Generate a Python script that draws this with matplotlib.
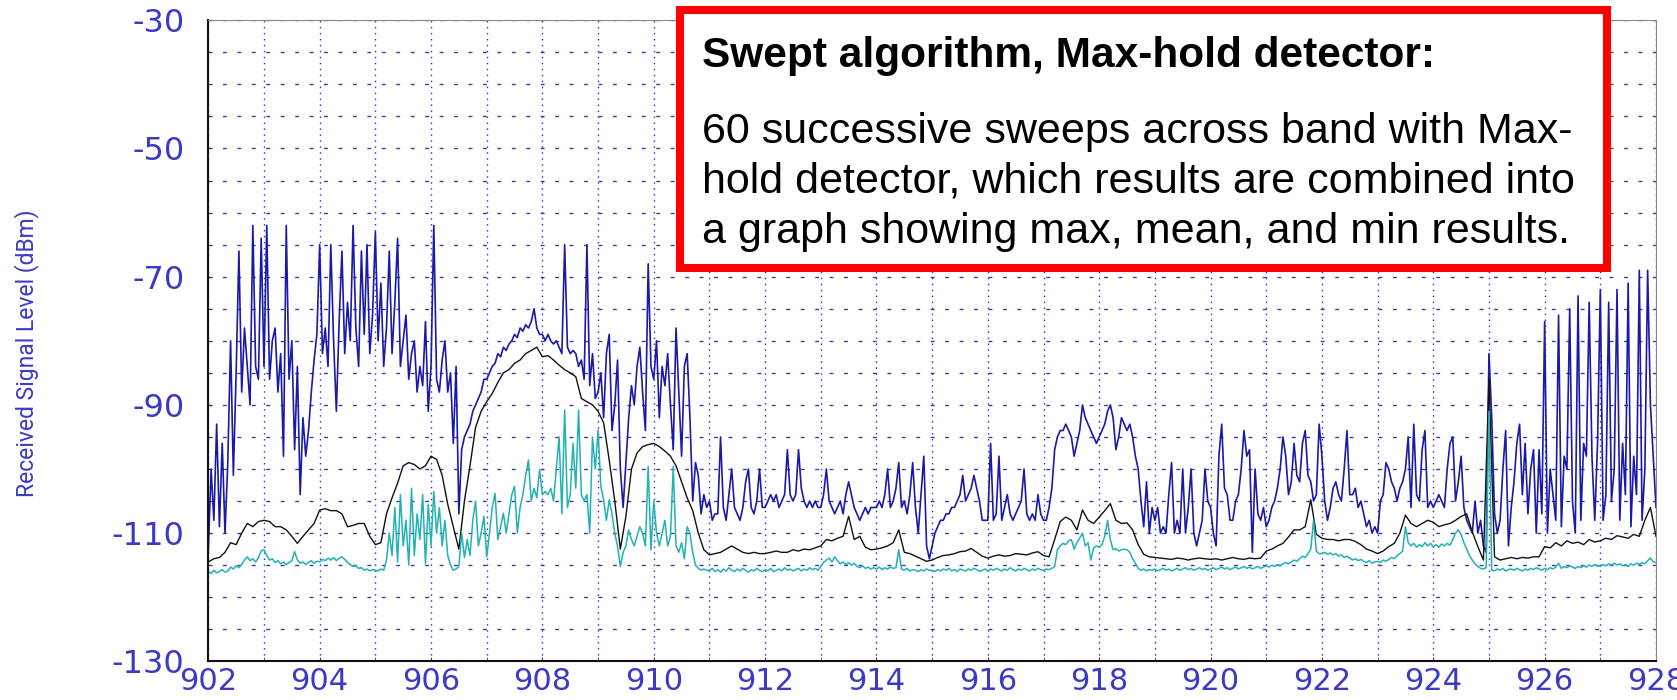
import numpy as np
import matplotlib
matplotlib.use("Agg")
import matplotlib.pyplot as plt
from matplotlib.patches import Rectangle
from matplotlib.ticker import MultipleLocator, FixedLocator

# max-hold trace, 0.05 MHz steps (one row per MHz)
max_dbm = (
    [-113, -100, -108, -93, -109, -96, -110, -99, -80, -101, -85, -66, -88, -78, -84, -90, -62, -84, -86, -64] +
    [-84, -62, -86, -80, -78, -88, -82, -98, -62, -86, -80, -97, -84, -104, -92, -98, -94, -88, -83, -79] +
    [-65, -82, -78, -84, -65, -80, -91, -77, -66, -82, -74, -80, -62, -78, -84, -66, -79, -65, -82, -76] +
    [-63, -80, -71, -84, -78, -66, -82, -74, -64, -84, -80, -76, -86, -82, -80, -88, -84, -87, -77, -91] +
    [-84, -62, -86, -88, -83, -80, -88, -85, -96, -84, -107, -97, -95, -94, -93, -91, -90, -89, -88, -86] +
    [-86, -85, -84, -83.5, -82, -82.5, -81, -81.5, -80.5, -80, -79, -79.5, -78, -78.5, -77.5, -78, -77, -75, -78, -79] +
    [-79, -80, -79, -80, -80.5, -80, -81, -82, -65, -81, -82, -81.5, -82, -84, -83, -86, -65, -87, -82, -89] +
    [-88, -85, -92, -82, -79, -94, -90, -83, -100, -106, -99, -92, -87, -90, -84, -81, -88, -94, -68, -84] +
    [-86, -80, -92, -84, -87, -82, -90, -97, -78, -88, -98, -84, -82, -92, -105, -99, -101, -107, -104, -106] +
    [-105, -108, -107, -107, -95, -106, -108, -104, -100, -106, -107, -108, -106, -102, -100, -106, -107, -105, -100, -106] +
    [-106, -105, -104, -105, -104, -106, -105, -104, -97, -104, -105, -104, -97, -103, -105, -106, -105, -106, -105, -106] +
    [-106, -104, -100, -105, -106, -107, -106, -105, -107, -104, -102, -104, -106, -107, -108, -107, -106, -107, -106, -106] +
    [-106, -105, -106, -104, -100, -106, -105, -103, -99, -106, -105, -107, -104, -99, -106, -110, -104, -98, -112, -114] +
    [-112, -110, -109, -108, -108, -107, -107, -106, -106, -105, -104, -101, -105, -104, -103, -101, -103, -105, -108, -108] +
    [-108, -96, -108, -107, -98, -108, -106, -104, -107, -108, -107, -106, -105, -100, -107, -108, -107, -108, -104, -107] +
    [-108, -108, -106, -103, -97, -95, -94, -94, -93, -94, -95, -98, -96, -94, -90, -92, -93, -94, -95, -96] +
    [-95, -94, -93, -91, -90, -92, -97, -95, -92, -93, -94, -93, -95, -98, -100, -105, -109, -102, -110, -106] +
    [-108, -106, -110, -109, -110, -104, -99, -110, -108, -110, -100, -110, -106, -100, -110, -112, -110, -108, -100, -105] +
    [-106, -110, -112, -98, -93, -103, -104, -108, -108, -105, -104, -100, -94, -98, -97, -113, -100, -107, -108, -106] +
    [-109, -108, -106, -105, -103, -100, -95, -98, -104, -102, -96, -101, -102, -96, -94, -101, -102, -105, -104, -93] +
    [-98, -105, -108, -106, -103, -102, -104, -105, -100, -94, -104, -104, -103, -106, -105, -107, -109, -108, -110, -109] +
    [-110, -105, -104, -99, -100, -102, -103, -105, -103, -102, -100, -95, -106, -93, -104, -105, -97, -94, -106, -105] +
    [-106, -105, -104, -105, -106, -100, -96, -95, -105, -102, -98, -106, -108, -109, -110, -105, -110, -108, -112, -113] +
    [-82, -92, -107, -110, -108, -100, -94, -112, -106, -102, -96, -93, -104, -96, -107, -100, -97, -110, -97, -107] +
    [-77, -110, -100, -104, -108, -76, -109, -98, -100, -75, -105, -110, -73, -108, -96, -98, -74, -98, -108, -96] +
    [-72, -108, -104, -74, -105, -100, -72, -108, -96, -104, -71, -109, -98, -104, -69, -108, -100, -69, -90, -98] +
    [-106]
)

# mean trace, 0.1 MHz steps
mean_dbm = (
    [-114.5, -114, -113.8, -113, -111.5, -111.8, -110, -108.5, -109, -108.2] +
    [-108, -108.2, -109, -109, -109.5, -110.5, -111.6, -110.5, -109.5, -108.5] +
    [-106.4, -106.2, -106.5, -106.5, -107, -109, -108.8, -108.5, -108.5, -110.5] +
    [-111.8, -111.5, -107, -104.5, -102.2, -99.5, -99, -99.3, -100, -99.5] +
    [-98, -98.5, -101, -105.5, -109, -112.5, -105, -99.5, -93.5, -91] +
    [-89.5, -88.2, -86.5, -85, -84.5, -83.5, -83, -82, -81.5, -81] +
    [-82.5, -82.3, -83, -83.8, -84.5, -85, -85.6, -89, -89.5, -90] +
    [-91, -92.8, -98.6, -105, -112.5, -107.4, -100, -97.5, -96.5, -96.2] +
    [-96, -96.5, -97.2, -98, -99.5, -102, -104.5, -106.5, -110, -112.6] +
    [-113.4, -113.2, -113, -112.5, -112, -112.5, -113, -113.2, -113, -113.2] +
    [-113.2, -113, -112.8, -113, -113, -112.6, -112.8, -112.5, -112.6, -112.3] +
    [-112, -111, -111.2, -110.8, -110.5, -107.4, -111, -110.5, -112.2, -112.6] +
    [-112.5, -112.3, -112, -111.5, -109.5, -113, -113.2, -113.6, -114, -114.4] +
    [-114.2, -113.8, -113.5, -113.4, -113.2, -112.9, -112.8, -112.4, -113, -113.6] +
    [-113.9, -113.6, -113.4, -113.6, -113.5, -113.2, -113.3, -113.4, -113.1, -112.9] +
    [-113.5, -113.7, -111, -108.2, -107.5, -108, -109.5, -106.4, -108, -108.5] +
    [-107.5, -106.5, -105.4, -108, -108.5, -108.4, -109.5, -111.8, -113.3, -113.7] +
    [-113.8, -113.9, -114, -114.1, -113.9, -114, -114.2, -114, -113.9, -114] +
    [-114.1, -114, -114.2, -114, -113.8, -114, -114.1, -113.9, -114, -113.9] +
    [-112.8, -112.5, -112, -111.6, -110.6, -109.5, -109.5, -109, -104.8, -110.2] +
    [-110.8, -111, -111, -111.2, -111, -111, -111.3, -111.8, -112.5, -112.8] +
    [-113.2, -112.8, -112.1, -111.6, -110, -107.2, -108.5, -109, -108.5, -108] +
    [-108.3, -109, -108.7, -108.5, -108, -107.4, -107, -109.8, -112.1, -114.2] +
    [-86, -113.7, -114.2, -114, -113.8, -114, -113.8, -113.9, -113.7, -113.7] +
    [-112.1, -112.3, -111.5, -112, -111.2, -111.6, -111.4, -111.8, -111, -111.4] +
    [-111.2, -110.8, -111, -110.4, -110.6, -110.8, -110.2, -110.5, -108, -106] +
    [-110.5]
)

# min trace, 0.05 MHz steps
min_dbm = (
    [-116, -116.3, -115.8, -116.2, -116, -115.7, -116.1, -115.9, -115.3, -115.6, -115.1, -115.4, -114.9, -114.2, -113.7, -114.3, -114, -114.5, -113.8, -112.8] +
    [-112.6, -113.5, -114.2, -114, -114.6, -114.3, -114.8, -114.5, -114.9, -114.6, -114.3, -112.9, -114.2, -114.7, -114.5, -114.9, -114.6, -114.3, -114.7, -114.4] +
    [-114.5, -114.1, -114.3, -113.9, -114.2, -113.8, -114.3, -113.9, -113.7, -114.1, -114.6, -114.9, -115.2, -115.1, -115.5, -115.4, -115.8, -115.6, -115.9, -115.7] +
    [-115.8, -115.9, -115.6, -115.8, -114.2, -110, -113.5, -106, -114.5, -104, -112, -108, -115, -103, -113.5, -107, -111, -104, -114.8, -105.5] +
    [-112, -103.5, -110, -106, -112, -108, -113.5, -115, -115.8, -115.6, -115.2, -110, -113.8, -111, -113.5, -108, -105, -112, -110, -107.4] +
    [-113.7, -110, -106, -103.8, -111, -109, -106.9, -110, -107, -104, -102.7, -110, -106, -104, -101, -98.6, -105, -103, -104.5, -100.1] +
    [-104, -103.5, -104, -103, -105, -100, -95, -107, -90.8, -106, -104, -96, -103, -90.8, -104, -105, -104, -110, -95, -100] +
    [-93.9, -102.7, -104.8, -108, -104.8, -107, -110, -112.1, -115.2, -113, -112, -109.5, -111, -112, -110.5, -109, -110, -112, -99.6, -112.6] +
    [-105, -110, -112, -110, -108, -112, -110.5, -99.6, -112, -113, -111.5, -114, -109, -110, -113, -115, -115.5, -115.8, -115.6, -115.8] +
    [-115.8, -115.5, -116, -115.7, -116.1, -115.6, -115.9, -115.4, -115.8, -116, -115.6, -115.9, -115.5, -115.8, -116.1, -115.7, -115.9, -115.5, -115.8, -116] +
    [-115.7, -115.9, -115.5, -116, -115.8, -115.6, -115.9, -115.4, -115.8, -115.6, -115.9, -115.7, -115.5, -115.9, -115.6, -115.8, -115.4, -115.7, -115.5, -115.8] +
    [-115.2, -114.6, -114.2, -113.9, -114.5, -113.7, -114.3, -114.8, -114.5, -114.9, -114.6, -115, -114.7, -115.2, -115.4, -115.1, -115.5, -115.3, -115.6, -115.4] +
    [-115.6, -115.3, -115.7, -115.4, -115.6, -115.3, -115.5, -115.4, -112.6, -115.6, -115.8, -115.5, -115.9, -115.7, -115.8, -116, -115.7, -115.9, -115.6, -115.8] +
    [-115.8, -116, -115.7, -115.9, -115.6, -115.8, -115.5, -115.9, -115.7, -116, -115.6, -115.8, -115.9, -115.6, -115.8, -115.5, -115.7, -116, -115.8, -115.6] +
    [-115.9, -115.6, -115.8, -115.5, -115.7, -115.9, -115.6, -115.8, -115.4, -115.7, -115.9, -115.6, -115.8, -115.5, -115.7, -115.9, -115.6, -115.8, -115.5, -115.7] +
    [-115.8, -115.6, -115.7, -115.5, -115.2, -112.6, -112, -111.6, -111.8, -111.2, -111, -112.5, -111.5, -110.8, -110, -112, -111.5, -114.2, -112.3, -112] +
    [-112.2, -111.8, -110.5, -108, -111, -112.6, -112.4, -112.8, -112.6, -112.5, -112.6, -113, -114, -114.7, -115.5, -115.8, -115.6, -115.9, -115.7, -115.8] +
    [-115.6, -115.9, -115.7, -115.5, -115.8, -115.6, -115.9, -115.7, -115.5, -115.8, -115.6, -115.4, -115.7, -115.5, -115.8, -115.6, -115.4, -115.7, -115.5, -115.8] +
    [-115.6, -115.4, -115.7, -115.5, -115.3, -115.6, -115.4, -115.7, -115.5, -115.3, -115.6, -115.4, -115.2, -115.5, -115.3, -115.6, -115.4, -115.2, -115.5, -115.3] +
    [-115.1, -115.3, -115, -115.2, -114.9, -115.1, -114.8, -114.6, -114.8, -114.5, -114.2, -114.4, -114, -113.6, -113.8, -113.2, -112.5, -108, -112.8, -113.2] +
    [-113.2, -113, -113.3, -113.1, -113.4, -113.2, -113.6, -113.4, -113.8, -113.6, -113.9, -114.2, -114, -114.3, -114.1, -114.4, -114.6, -114.3, -114.7, -114.5] +
    [-114.4, -114.6, -114.2, -114.4, -114.1, -113.8, -114, -113.5, -113.2, -112.8, -109, -111.5, -112, -111.6, -112.2, -111.8, -112.1, -111.5, -112, -111.6] +
    [-112.1, -111.8, -112.2, -111.7, -112, -111.6, -111.9, -111, -110, -109.5, -110.2, -111.5, -112.5, -113.5, -114.2, -114.8, -115.2, -115.5, -115.6, -115.4] +
    [-91, -115.8, -115.9, -115.6, -115.8, -115.5, -115.9, -115.7, -115.6, -115.8, -115.5, -115.7, -115.9, -115.6, -115.8, -115.5, -115.7, -115.4, -115.6, -115.8] +
    [-115.5, -115.7, -115.4, -115.6, -115.3, -114.7, -115.5, -115.2, -115.4, -115.1, -115.3, -115.5, -115.2, -115.4, -115.1, -115.3, -115, -115.2, -114.9, -115.1] +
    [-115.2, -114.9, -115.1, -114.8, -115, -114.7, -115, -114.8, -115.1, -114.9, -115.2, -114.8, -115, -114.7, -114.9, -114.6, -114.8, -114.3, -113.9, -114.5] +
    [-114.6]
)

f_max = np.linspace(902, 928, len(max_dbm))
f_mean = np.linspace(902, 928, len(mean_dbm))
f_min = np.linspace(902, 928, len(min_dbm))

y_ticks = [-130, -110, -90, -70, -50, -30]
x_ticks = [902, 904, 906, 908, 910, 912, 914, 916, 918, 920, 922, 924, 926, 928]

box_title = "Swept algorithm, Max-hold detector:"
box_lines = ["60 successive sweeps across band with Max-",
             "hold detector, which results are combined into",
             "a graph showing max, mean, and min results."]

plt.rcParams['axes.unicode_minus'] = False
plt.rcParams['lines.scale_dashes'] = False

W, H = 1677, 700
fig = plt.figure(figsize=(W / 100, H / 100), dpi=100)
ax = fig.add_axes([208.3 / W, 1 - 661.3 / H, (1656 - 208.3) / W, (661.3 - 20.3) / H])

ax.plot(f_max, max_dbm, color='#1a1aa8', lw=1.2)
ax.plot(f_mean, mean_dbm, color='#111111', lw=1.0)
ax.plot(f_min, min_dbm, color='#22b2b2', lw=1.1)

ax.set_xlim(902, 928)
ax.set_ylim(-130, -30)
ax.xaxis.set_major_locator(FixedLocator(x_ticks))
ax.xaxis.set_minor_locator(MultipleLocator(1))
ax.yaxis.set_major_locator(FixedLocator(y_ticks))
ax.yaxis.set_minor_locator(MultipleLocator(5))

grid_c = '#3838c8'
ax.xaxis.grid(True, which='both', color=grid_c, lw=1.0, linestyle=(0, (1.1, 3.2)))
ax.yaxis.grid(True, which='both', color=grid_c, lw=1.0, linestyle=(0, (2.8, 7.6)))
ax.set_axisbelow(True)

label_c = '#3a3ac4'
ax.tick_params(axis='both', which='both', direction='in', length=3, color='#444444',
               labelcolor=label_c)
ax.tick_params(axis='y', pad=17, labelsize=23)
ax.tick_params(axis='x', pad=4, labelsize=22)

ax.spines['left'].set_color('#111111')
ax.spines['left'].set_linewidth(1.5)
ax.spines['bottom'].set_color('#111111')
ax.spines['bottom'].set_linewidth(1.5)
ax.spines['top'].set_color('#888888')
ax.spines['top'].set_linewidth(0.8)
ax.spines['right'].set_color('#888888')
ax.spines['right'].set_linewidth(0.8)

fig.text(27 / W, 1 - 353 / H, "Received Signal Level (dBm)", rotation=90,
         ha='center', va='center', color=label_c, fontsize=16.5,
         family=['Roboto', 'DejaVu Sans'])

# red framed note
box = Rectangle((680 / W, 1 - 268 / H), (1607 - 680) / W, (268 - 10) / H,
                transform=fig.transFigure, facecolor='white', edgecolor='#ff0000',
                lw=5.8, zorder=10)
fig.add_artist(box)
fig.text(702 / W, 1 - 67 / H, box_title, fontsize=30.5, fontweight='bold',
         family='Liberation Sans', va='baseline', zorder=11)
for i, line in enumerate(box_lines):
    fig.text(702 / W, 1 - (143 + 50 * i) / H, line, fontsize=31,
             family='Liberation Sans', va='baseline', zorder=11)

fig.savefig('out.png', dpi=100)
